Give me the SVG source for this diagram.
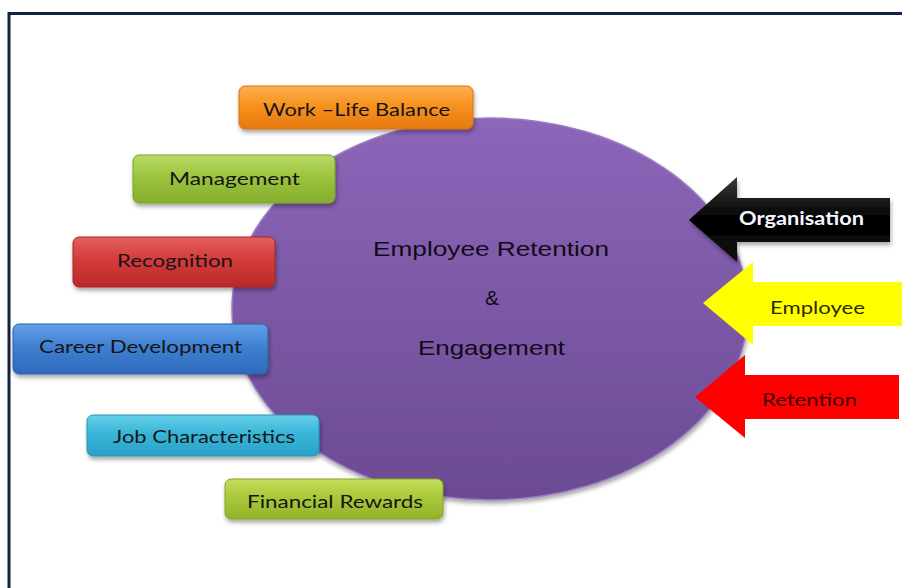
<svg xmlns="http://www.w3.org/2000/svg" width="902" height="588" viewBox="0 0 902 588">
<defs>
<style>
.bt{font-family:"Lato","Open Sans","DejaVu Sans",sans-serif;font-size:18px;fill:#151515;text-anchor:start}
.ct{font-family:"Liberation Sans",Arial,sans-serif;font-size:21px;fill:#120a18}
.at{font-family:"Lato","Open Sans",sans-serif;font-size:18px}
.ab{font-weight:bold}
</style>
<filter id="sh" x="-10%" y="-20%" width="125%" height="160%">
<feDropShadow dx="1" dy="3" stdDeviation="2" flood-color="#000" flood-opacity="0.35"/>
</filter>
<linearGradient id="gCirc" x1="0" y1="0" x2="0" y2="1">
<stop offset="0" stop-color="#8c66b9"/>
<stop offset="1" stop-color="#6b4b93"/>
</linearGradient>
<linearGradient id="gOr" x1="0" y1="0" x2="0" y2="1">
<stop offset="0" stop-color="#fbb050"/><stop offset="0.45" stop-color="#f7921e"/><stop offset="1" stop-color="#e5790f"/>
</linearGradient>
<linearGradient id="gGr" x1="0" y1="0" x2="0" y2="1">
<stop offset="0" stop-color="#b8da66"/><stop offset="0.45" stop-color="#9cc43e"/><stop offset="1" stop-color="#86ad2c"/>
</linearGradient>
<linearGradient id="gRd" x1="0" y1="0" x2="0" y2="1">
<stop offset="0" stop-color="#e46060"/><stop offset="0.45" stop-color="#d43b3b"/><stop offset="1" stop-color="#b92a2a"/>
</linearGradient>
<linearGradient id="gBl" x1="0" y1="0" x2="0" y2="1">
<stop offset="0" stop-color="#62a0e6"/><stop offset="0.45" stop-color="#3f80d2"/><stop offset="1" stop-color="#2e69bb"/>
</linearGradient>
<linearGradient id="gCy" x1="0" y1="0" x2="0" y2="1">
<stop offset="0" stop-color="#66cfea"/><stop offset="0.45" stop-color="#38b6d8"/><stop offset="1" stop-color="#28a1c6"/>
</linearGradient>
<linearGradient id="gYg" x1="0" y1="0" x2="0" y2="1">
<stop offset="0" stop-color="#c4de5c"/><stop offset="0.45" stop-color="#a9c93a"/><stop offset="1" stop-color="#93b22a"/>
</linearGradient>
<linearGradient id="gBk" x1="0" y1="0" x2="0" y2="1">
<stop offset="0" stop-color="#3a3a3a"/><stop offset="0.5" stop-color="#000"/><stop offset="1" stop-color="#111"/>
</linearGradient>
</defs>
<rect width="902" height="588" fill="#fff"/>
<rect x="9" y="13.5" width="910" height="600" fill="none" stroke="#10233f" stroke-width="3"/>

<g id="core">
<ellipse cx="490" cy="309" rx="258" ry="191" fill="url(#gCirc)" stroke="#9b7cc4" stroke-width="1.5" filter="url(#sh)"/>
<text class="ct" x="373" y="256" textLength="236" lengthAdjust="spacingAndGlyphs">Employee Retention</text>
<text class="ct" x="492" y="305" text-anchor="middle">&amp;</text>
<text class="ct" x="418" y="355" textLength="147" lengthAdjust="spacingAndGlyphs">Engagement</text>
</g>

<g id="work-life">
<rect x="239" y="86" width="234" height="43" rx="6" fill="url(#gOr)" stroke="#d9720e" stroke-width="1" filter="url(#sh)"/>
<text class="bt" x="263" y="116" textLength="187" lengthAdjust="spacingAndGlyphs">Work –Life Balance</text>
</g>
<g id="management">
<rect x="133" y="155" width="202" height="48" rx="6" fill="url(#gGr)" stroke="#7ea22a" stroke-width="1" filter="url(#sh)"/>
<text class="bt" x="169" y="185" textLength="131" lengthAdjust="spacingAndGlyphs">Management</text>
</g>
<g id="recognition">
<rect x="73" y="237" width="202" height="50" rx="6" fill="url(#gRd)" stroke="#a82626" stroke-width="1" filter="url(#sh)"/>
<text class="bt" x="117" y="267" textLength="116" lengthAdjust="spacingAndGlyphs">Recognition</text>
</g>
<g id="career">
<rect x="13" y="324" width="255" height="50" rx="6" fill="url(#gBl)" stroke="#2a60aa" stroke-width="1" filter="url(#sh)"/>
<text class="bt" x="39" y="353" textLength="203" lengthAdjust="spacingAndGlyphs">Career Development</text>
</g>
<g id="job">
<rect x="87" y="415" width="232" height="41" rx="6" fill="url(#gCy)" stroke="#2596b8" stroke-width="1" filter="url(#sh)"/>
<text class="bt" x="113" y="443" textLength="182" lengthAdjust="spacingAndGlyphs">Job Characteristics</text>
</g>
<g id="financial">
<rect x="225" y="479" width="218" height="40" rx="6" fill="url(#gYg)" stroke="#87a526" stroke-width="1" filter="url(#sh)"/>
<text class="bt" x="247" y="508" textLength="176" lengthAdjust="spacingAndGlyphs">Financial Rewards</text>
</g>

<g id="arrows">
<g id="organisation">
<polygon points="689,220 737,177 737,198 890,198 890,242 737,242 737,262" fill="url(#gBk)" filter="url(#sh)"/>
<text class="at ab" x="739" y="225" fill="#f4f6ff" textLength="125" lengthAdjust="spacingAndGlyphs">Organisation</text>
</g>
<g id="employee">
<polygon points="703,303 753,262 753,282 904,282 904,326 753,326 753,345" fill="#ffff00"/>
<text class="at" x="770" y="314" fill="#2a2a00" textLength="95" lengthAdjust="spacingAndGlyphs">Employee</text>
</g>
<g id="retention">
<polygon points="695,397 745,355 745,375 899,375 899,419 745,419 745,438" fill="#ff0000"/>
<text class="at" x="762" y="406" fill="#3a0000" textLength="95" lengthAdjust="spacingAndGlyphs">Retention</text>
</g>
</g>
</svg>
